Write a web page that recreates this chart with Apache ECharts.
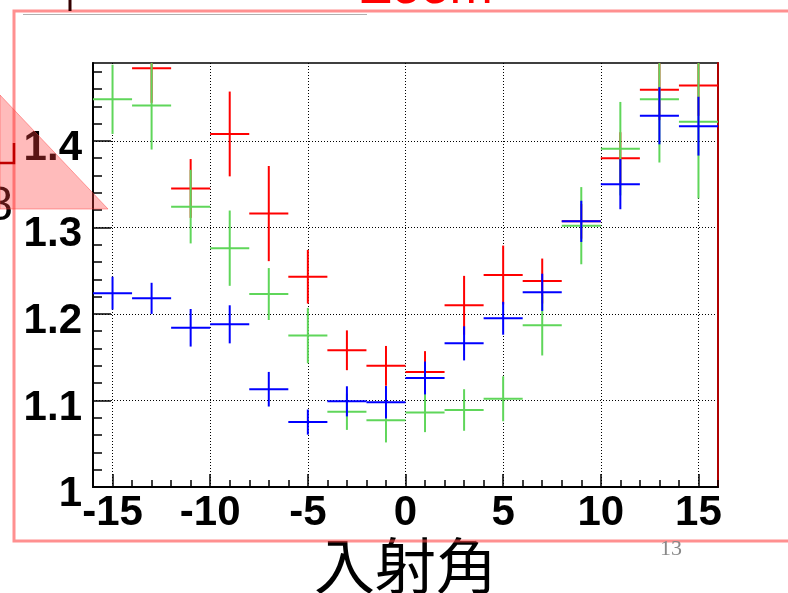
<!DOCTYPE html>
<html>
<head>
<meta charset="utf-8">
<script src="https://cdn.jsdelivr.net/npm/echarts@6/dist/echarts.min.js"></script>
<style>
html,body{margin:0;padding:0;background:#fff;}
#c{width:788px;height:593px;}
</style>
</head>
<body>
<div id="c"></div>
<script>
// ---- data ----
const xValues = [-15, -13, -11, -9, -7, -5, -3, -1, 1, 3, 5, 7, 9, 11, 13, 15];
const xHalfWidth = 1;
const redY    = [null, 1.484, 1.345, 1.408, 1.316, 1.243, 1.158, 1.140, 1.133, 1.210, 1.245, 1.238, 1.307, 1.380, 1.459, 1.464];
const redErr  = [null, 0.040, 0.034, 0.049, 0.055, 0.031, 0.023, 0.023, 0.024, 0.034, 0.034, 0.026, 0.020, 0.030, 0.035, 0.035];
const greenY  = [1.448, 1.441, 1.324, 1.276, 1.223, 1.175, 1.087, 1.077, 1.086, 1.089, 1.102, 1.187, 1.302, 1.391, 1.448, 1.422];
const greenErr= [0.040, 0.051, 0.0425, 0.0435, 0.030, 0.032, 0.021, 0.0255, 0.0226, 0.024, 0.026, 0.035, 0.0446, 0.054, 0.073, 0.0885];
const blueY   = [1.224, 1.218, 1.184, 1.188, 1.113, 1.075, 1.099, 1.098, 1.126, 1.166, 1.195, 1.225, 1.307, 1.350, 1.429, 1.417];
const blueErr = [0.019, 0.018, 0.0217, 0.022, 0.020, 0.0145, 0.0174, 0.0187, 0.019, 0.0197, 0.019, 0.0215, 0.0238, 0.029, 0.033, 0.034];

const X_MIN = -16, X_MAX = 16;
const Y_MIN = 1.0, Y_MAX = 1.49;
const xMajorTicks = [-15, -10, -5, 0, 5, 10, 15];
const xMinorTicks = [];
for (let v = -16; v <= 16; v++) xMinorTicks.push(v);
const yMajorTicks = [1.0, 1.1, 1.2, 1.3, 1.4];
const yMinorTicks = [];
for (let k = 0; k <= 24; k++) yMinorTicks.push(+(1 + k * 0.02).toFixed(2));
const xTitle = '入射角';

// ---- chart ----
function rows(ys, errs) {
  const out = [];
  xValues.forEach((x, i) => { if (ys[i] != null) out.push([x, ys[i], errs[i]]); });
  return out;
}
function crossRenderer(color) {
  return function (params, api) {
    const x = api.value(0), y = api.value(1), e = api.value(2);
    const c = api.coord([x, y]);
    const l = api.coord([Math.max(x - xHalfWidth, X_MIN), y]);
    const r = api.coord([Math.min(x + xHalfWidth, X_MAX), y]);
    const t = api.coord([x, Math.min(y + e, Y_MAX)]);
    const b = api.coord([x, Math.max(y - e, Y_MIN)]);
    const st = { stroke: color, lineWidth: 2 };
    return {
      type: 'group',
      children: [
        { type: 'line', shape: { x1: l[0], y1: c[1], x2: r[0], y2: c[1] }, style: st },
        { type: 'line', shape: { x1: c[0], y1: t[1], x2: c[0], y2: b[1] }, style: st }
      ]
    };
  };
}
function cross(name, ys, errs, color) {
  return {
    type: 'custom', name: name, xAxisIndex: 0, yAxisIndex: 0,
    data: rows(ys, errs), encode: { x: 0, y: 1 },
    renderItem: crossRenderer(color), silent: true, z: 5
  };
}

const labelFont = { fontFamily: 'Liberation Sans', fontWeight: 'bold', fontSize: 42, color: '#000' };
const chart = echarts.init(document.getElementById('c'), null, { renderer: 'canvas' });
chart.setOption({
  animation: false,
  backgroundColor: '#fff',
  grid: { left: 93, top: 63, right: 70, bottom: 106, containLabel: false, outerBoundsMode: 'none',
          show: true, borderColor: '#000', borderWidth: 1.5, backgroundColor: 'transparent' },
  xAxis: [
    {
      type: 'value', min: X_MIN, max: X_MAX, position: 'bottom',
      axisLine: { show: true, onZero: false, lineStyle: { color: '#000', width: 2 } },
      axisTick: { show: true, inside: true, length: 7, customValues: xMinorTicks, lineStyle: { color: '#000', width: 1.5 } },
      axisLabel: { show: false },
      splitLine: { show: false },
      name: xTitle, nameLocation: 'middle', nameGap: 48,
      nameTextStyle: { fontFamily: 'Noto Sans CJK JP', fontSize: 61, color: '#000' }
    },
    {
      type: 'value', min: X_MIN, max: X_MAX, position: 'bottom',
      axisLine: { show: false, onZero: false },
      axisTick: { show: true, inside: true, length: 13, customValues: xMajorTicks, lineStyle: { color: '#000', width: 1.5 } },
      axisLabel: Object.assign({ customValues: xMajorTicks, margin: 5 }, labelFont),
      splitLine: { show: true, lineStyle: { color: '#000', width: 1, type: [1, 2] } }
    }
  ],
  yAxis: [
    {
      type: 'value', min: Y_MIN, max: Y_MAX, position: 'left',
      axisLine: { show: true, onZero: false, lineStyle: { color: '#000', width: 2 } },
      axisTick: { show: true, inside: true, length: 9, customValues: yMinorTicks, lineStyle: { color: '#000', width: 1.5 } },
      axisLabel: { show: false },
      splitLine: { show: false }
    },
    {
      type: 'value', min: Y_MIN, max: Y_MAX, position: 'left',
      axisLine: { show: false, onZero: false },
      axisTick: { show: true, inside: true, length: 18, customValues: yMajorTicks, lineStyle: { color: '#000', width: 1.5 } },
      axisLabel: Object.assign({
        customValues: yMajorTicks, margin: 11, verticalAlign: 'top', lineHeight: 15,
        formatter: v => (Math.abs(v - 1) < 1e-9 ? '1' : v.toFixed(1))
      }, labelFont),
      splitLine: { show: true, lineStyle: { color: '#000', width: 1, type: [1, 2] } }
    },
    {
      type: 'value', min: Y_MIN, max: Y_MAX, position: 'right',
      axisLine: { show: true, onZero: false, lineStyle: { color: '#b00000', width: 2 } },
      axisTick: { show: false }, axisLabel: { show: false }, splitLine: { show: false }
    }
  ],
  series: [
    cross('red', redY, redErr, '#ff0000'),
    cross('green', greenY, greenErr, '#5fd65a'),
    cross('blue', blueY, blueErr, '#0000ff')
  ],
  graphic: [
    { type: 'polyline', z: 50, shape: { points: [[800, 11], [14, 11], [14, 541], [800, 541]] }, style: { stroke: 'rgba(255,70,70,0.6)', lineWidth: 3, fill: null } },
    { type: 'line', z: 50, shape: { x1: 23, y1: 14.5, x2: 367, y2: 14.5 }, style: { stroke: '#b0b0b0', lineWidth: 1 } },
    { type: 'line', z: 50, shape: { x1: 70, y1: 0, x2: 70, y2: 11 }, style: { stroke: '#300', lineWidth: 3 } },
    { type: 'text', z: 50, style: { text: 'Zoom', x: 360, y: 15, fontSize: 52, fontFamily: 'Liberation Sans', fill: '#ff0000', verticalAlign: 'bottom', align: 'left' } },
    { type: 'text', z: 50, style: { text: '8', x: 13, y: 207, fontSize: 48, fontFamily: 'Liberation Sans', fill: '#000', verticalAlign: 'middle', align: 'right' } },
    { type: 'polygon', z: 100, shape: { points: [[0, 95], [108, 209], [0, 209]] }, style: { fill: 'rgba(255,60,60,0.35)', stroke: 'rgba(255,60,60,0.45)', lineWidth: 1 } },
    { type: 'polyline', z: 101, shape: { points: [[14, 143], [14, 163], [0, 163]] }, style: { stroke: '#c00000', lineWidth: 2.5, fill: null } },
    { type: 'text', z: 50, style: { text: '13', x: 660, y: 549, fontSize: 22, fontFamily: 'Liberation Serif', fill: '#888', verticalAlign: 'middle', align: 'left' } }
  ]
});
</script>
</body>
</html>
